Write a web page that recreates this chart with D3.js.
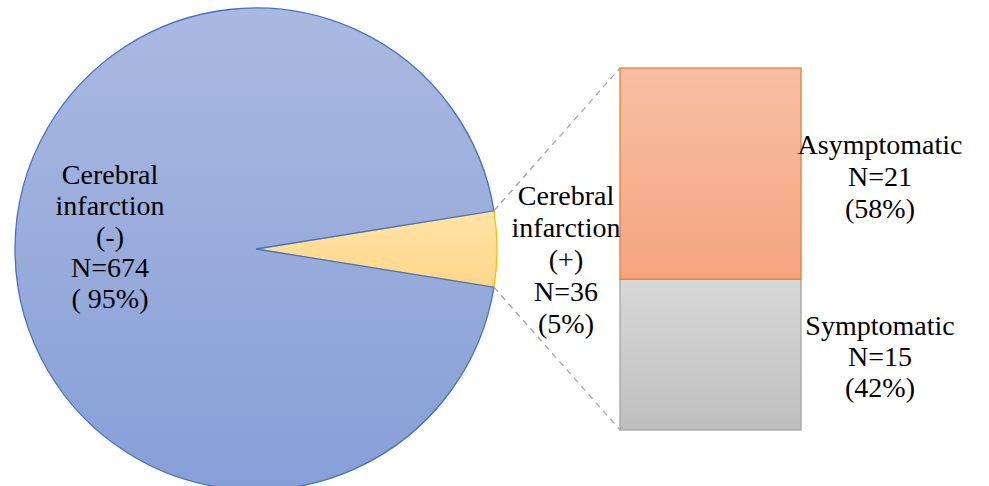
<!DOCTYPE html>
<html>
<head>
<meta charset="utf-8">
<script src="https://cdn.jsdelivr.net/npm/d3@7"></script>
<style>
  body { margin: 0; background: #fff; }
</style>
</head>
<body>
<div id="chart"></div>
<script>
// Pie data
const pie_labels = [
    ['Cerebral', 'infarction', '(+)', 'N=36', '(5%)'],
    ['Cerebral', 'infarction', '(-)', 'N=674', '( 95%)'],
];
const pie_values = [36, 674];

// Breakdown bar data
const bar_labels = [
    ['Symptomatic', 'N=15', '(42%)'],
    ['Asymptomatic', 'N=21', '(58%)'],
];
const bar_values = [15, 21];

const chart_width = 989;
const chart_height = 486;

const cx = 256, cy = 249, radius = 241;
const bar_left = 620, bar_right = 801, bar_top = 68, bar_bottom = 430;

const svg = d3.select('#chart')
    .append('svg')
    .attr('width', chart_width)
    .attr('height', chart_height);

// Gradients
const defs = svg.append('defs');
function grad(id, c1, c2) {
    const g = defs.append('linearGradient')
        .attr('id', id)
        .attr('x1', 0).attr('y1', 0).attr('x2', 0).attr('y2', 1);
    g.append('stop').attr('offset', '0%').attr('stop-color', c1);
    g.append('stop').attr('offset', '100%').attr('stop-color', c2);
}
grad('g_blue', '#aab9e0', '#879fd7');
grad('g_yellow', '#ffe3a6', '#ffd78a');
grad('g_orange', '#f7bfa4', '#f4a57f');
grad('g_gray', '#d8d8d8', '#bfbfbf');

// Pie, small slice centred on 3 o'clock
const total = d3.sum(pie_values);
const small_angle = pie_values[0] / total * 2 * Math.PI;
const pie = d3.pie()
    .sort(null)
    .startAngle(Math.PI / 2 - small_angle / 2)
    .endAngle(Math.PI / 2 - small_angle / 2 + 2 * Math.PI);
const arcs = pie(pie_values);
const arc = d3.arc().innerRadius(0).outerRadius(radius);

const pie_g = svg.append('g').attr('transform', `translate(${cx}, ${cy})`);
pie_g.selectAll('path')
    .data(arcs)
    .enter()
    .append('path')
    .attr('d', arc)
    .attr('fill', (d, i) => i === 0 ? 'url(#g_yellow)' : 'url(#g_blue)')
    .attr('stroke', (d, i) => i === 0 ? '#ffc000' : '#4472c4')
    .attr('stroke-width', 1.3);

// Bar scale
const y_scale = d3.scaleLinear()
    .domain([0, d3.sum(bar_values)])
    .range([bar_bottom, bar_top]);

// Connector lines
const a0 = arcs[0].startAngle, a1 = arcs[0].endAngle;
const pt = a => [cx + radius * Math.sin(a), cy - radius * Math.cos(a)];
const p0 = pt(a0), p1 = pt(a1);
svg.append('line')
    .attr('x1', p0[0]).attr('y1', p0[1])
    .attr('x2', bar_left).attr('y2', y_scale(d3.sum(bar_values)))
    .attr('stroke', '#a6a6a6').attr('stroke-width', 1.3).attr('stroke-dasharray', '6,5');
svg.append('line')
    .attr('x1', p1[0]).attr('y1', p1[1])
    .attr('x2', bar_left).attr('y2', y_scale(0))
    .attr('stroke', '#a6a6a6').attr('stroke-width', 1.3).attr('stroke-dasharray', '6,5');

// Stacked bar
let acc = 0;
const stacks = bar_values.map(v => { const s = { y0: acc, y1: acc + v }; acc += v; return s; });
svg.append('g')
    .selectAll('rect')
    .data(stacks)
    .enter()
    .append('rect')
    .attr('x', bar_left)
    .attr('y', d => y_scale(d.y1))
    .attr('width', bar_right - bar_left)
    .attr('height', d => y_scale(d.y0) - y_scale(d.y1))
    .attr('fill', (d, i) => i === 0 ? 'url(#g_gray)' : 'url(#g_orange)')
    .attr('stroke', (d, i) => i === 0 ? '#a5a5a5' : '#ed7d31')
    .attr('stroke-width', 1.3);

// Labels
function label(lines, x, y_first, step) {
    const t = svg.append('text')
        .attr('text-anchor', 'middle')
        .style('font-family', '"Liberation Serif", "Times New Roman", serif')
        .style('font-size', '28px')
        .attr('fill', '#000');
    lines.forEach((s, i) => {
        t.append('tspan').attr('x', x).attr('y', y_first + i * step).text(s);
    });
}
label(pie_labels[1], 110, 184, 31);
label(pie_labels[0], 566, 205, 32);
label(bar_labels[1], 880, 154, 32);
label(bar_labels[0], 880, 335, 31);
</script>
</body>
</html>
